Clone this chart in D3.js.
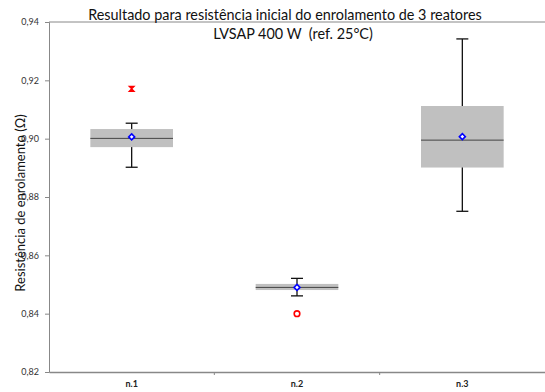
<!DOCTYPE html>
<html>
<head>
<meta charset="utf-8">
<script src="https://cdn.jsdelivr.net/npm/d3@7"></script>
<style>
  body { margin: 0; background: #fff; }
  text { font-family: Lato, "Open Sans", sans-serif; }
</style>
</head>
<body>
<script>
// Chart data
var categories = ["n.1", "n.2", "n.3"];
var q1 = [0.8971, 0.8481, 0.8901];
var median = [0.9001, 0.8490, 0.8995];
var q3 = [0.9033, 0.8502, 0.9112];
var whiskerLow = [0.8902, 0.8461, 0.8751];
var whiskerHigh = [0.9053, 0.8521, 0.9342];
var means = [0.9006, 0.8490, 0.9007];
var outliers = [0.9171, 0.8400, null];
var outlierShape = ["cross", "circle", null];
var yTicks = [0.82, 0.84, 0.86, 0.88, 0.90, 0.92, 0.94];

var svgWidth = 545;
var svgHeight = 392;
var margin = { top: 22, right: 0, bottom: 20, left: 49 };
var width = svgWidth - margin.left - margin.right;
var height = svgHeight - margin.top - margin.bottom;

var svg = d3.select("body").append("svg")
  .attr("width", svgWidth)
  .attr("height", svgHeight);

var g = svg.append("g")
  .attr("transform", `translate(${margin.left}, ${margin.top})`);

var x = d3.scaleBand().domain(categories).range([0, width]);
var y = d3.scaleLinear().domain([0.82, 0.94]).range([height, 0]);

var locale = d3.formatLocale({ decimal: ",", thousands: ".", grouping: [3], currency: ["", ""] });
var fmt = locale.format(".2f");

// y axis
var yAxis = g.append("g")
  .call(d3.axisLeft(y).tickValues(yTicks).tickFormat(fmt).tickSize(4).tickPadding(6));
yAxis.select(".domain").attr("stroke", "#888");
yAxis.selectAll(".tick line").attr("stroke", "#888");
yAxis.selectAll(".tick text").attr("font-size", 9).attr("fill", "#333");

// x axis
var xAxis = g.append("g")
  .attr("transform", `translate(0, ${height})`)
  .call(d3.axisBottom(x).tickSize(0).tickPadding(9));
xAxis.select(".domain").attr("stroke", "#888").attr("stroke-width", 1.5);
xAxis.selectAll(".tick text").attr("font-size", 9).attr("font-weight", "bold").attr("fill", "#222");
// separator ticks between categories
g.selectAll(".sep")
  .data(categories.slice(1))
  .enter().append("line")
  .attr("x1", d => x(d)).attr("x2", d => x(d))
  .attr("y1", height).attr("y2", height + 3)
  .attr("stroke", "#888");

// top border
g.append("line")
  .attr("x1", 0).attr("x2", width)
  .attr("y1", 0).attr("y2", 0)
  .attr("stroke", "#888");

var boxW = x.bandwidth() / 2;
var capW = 12;
var cx = d => x(d) + x.bandwidth() / 2;

var boxes = g.selectAll(".box")
  .data(categories)
  .enter().append("g")
  .attr("class", "box");

// whiskers
boxes.append("line")
  .attr("x1", cx).attr("x2", cx)
  .attr("y1", (d, i) => y(whiskerLow[i]))
  .attr("y2", (d, i) => y(whiskerHigh[i]))
  .attr("stroke", "#111").attr("stroke-width", 1.3);
boxes.append("line")
  .attr("x1", d => cx(d) - capW / 2).attr("x2", d => cx(d) + capW / 2)
  .attr("y1", (d, i) => y(whiskerHigh[i])).attr("y2", (d, i) => y(whiskerHigh[i]))
  .attr("stroke", "#111").attr("stroke-width", 1.3);
boxes.append("line")
  .attr("x1", d => cx(d) - capW / 2).attr("x2", d => cx(d) + capW / 2)
  .attr("y1", (d, i) => y(whiskerLow[i])).attr("y2", (d, i) => y(whiskerLow[i]))
  .attr("stroke", "#111").attr("stroke-width", 1.3);

// box
boxes.append("rect")
  .attr("x", d => cx(d) - boxW / 2)
  .attr("width", boxW)
  .attr("y", (d, i) => y(q3[i]))
  .attr("height", (d, i) => y(q1[i]) - y(q3[i]))
  .attr("fill", "#c0c0c0");

// median
boxes.append("line")
  .attr("x1", d => cx(d) - boxW / 2).attr("x2", d => cx(d) + boxW / 2)
  .attr("y1", (d, i) => y(median[i])).attr("y2", (d, i) => y(median[i]))
  .attr("stroke", "#444").attr("stroke-width", 1);

// mean marker (blue diamond)
boxes.append("path")
  .attr("d", "M0,-3 L3,0 L0,3 L-3,0 Z")
  .attr("transform", (d, i) => `translate(${cx(d)}, ${y(means[i])})`)
  .attr("fill", "#fff").attr("stroke", "#0000ff").attr("stroke-width", 1.6);

// outliers
boxes.filter((d, i) => outliers[i] !== null).each(function(d) {
  var i = categories.indexOf(d);
  var sel = d3.select(this);
  if (outlierShape[i] === "circle") {
    sel.append("circle")
      .attr("cx", cx(d)).attr("cy", y(outliers[i]))
      .attr("r", 2.8)
      .attr("fill", "#fff").attr("stroke", "#ff0000").attr("stroke-width", 1.6);
  } else {
    sel.append("path")
      .attr("d", "M-2.5,-2.5 L2.5,-2.5 L-2.5,2.5 L2.5,2.5 Z")
      .attr("transform", `translate(${cx(d)}, ${y(outliers[i])})`)
      .attr("fill", "#ff0000").attr("stroke", "#ff0000").attr("stroke-width", 1.2);
  }
});

// titles
svg.append("text")
  .attr("x", 285).attr("y", 20)
  .attr("text-anchor", "middle")
  .attr("font-size", 14.4).attr("fill", "#111")
  .text("Resultado para resistência inicial do enrolamento de 3 reatores");
svg.append("text")
  .attr("x", 293).attr("y", 39)
  .attr("text-anchor", "middle")
  .attr("font-size", 14.4).attr("fill", "#111")
  .style("white-space", "pre")
  .text("LVSAP 400 W  (ref. 25°C)");

// y axis label
svg.append("text")
  .attr("transform", "translate(25, 203) rotate(-90)")
  .attr("text-anchor", "middle")
  .attr("font-size", 13).attr("fill", "#111")
  .text("Resistência de enrolamento (Ω)");
</script>
</body>
</html>
